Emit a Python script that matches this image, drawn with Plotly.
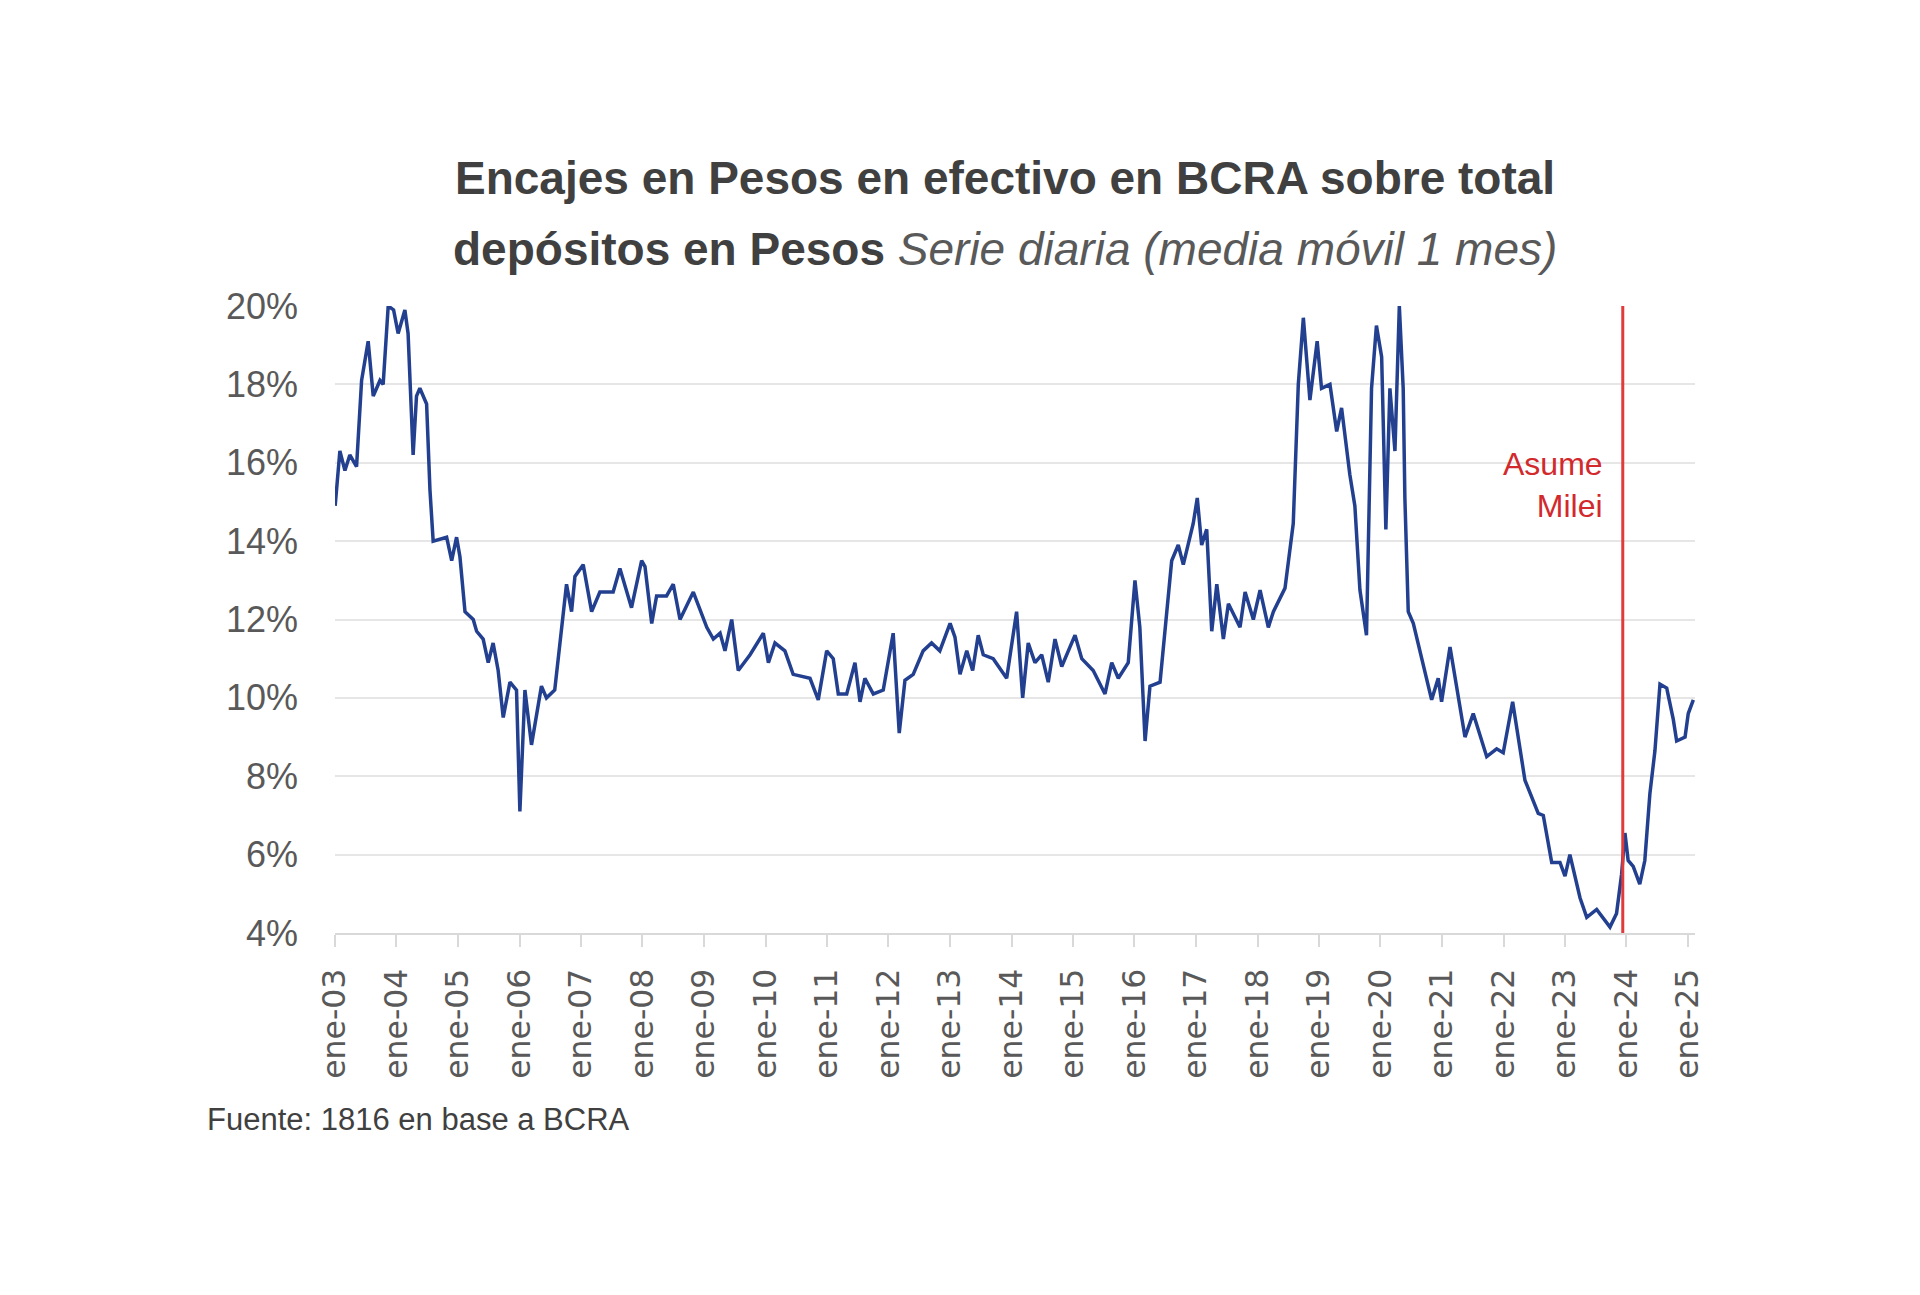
import plotly.graph_objects as go

# ---- data ----
dates = [
    "2003-01-02", "2003-01-30", "2003-03-01", "2003-03-30", "2003-05-09", "2003-06-08",
    "2003-07-17", "2003-08-16", "2003-09-25", "2003-10-14", "2003-11-13", "2003-12-15",
    "2004-01-11", "2004-02-20", "2004-03-10", "2004-04-09", "2004-04-29", "2004-05-19",
    "2004-06-28", "2004-07-18", "2004-08-06", "2004-10-25", "2004-11-24", "2004-12-23",
    "2005-01-12", "2005-02-11", "2005-04-01", "2005-04-21", "2005-05-30", "2005-06-29",
    "2005-07-28", "2005-08-27", "2005-09-26", "2005-11-05", "2005-12-14", "2006-01-03",
    "2006-02-02", "2006-03-13", "2006-05-11", "2006-06-10", "2006-07-29", "2006-09-07",
    "2006-10-07", "2006-11-06", "2006-11-26", "2007-01-14", "2007-03-05", "2007-04-23",
    "2007-07-11", "2007-08-20", "2007-10-28", "2007-12-27", "2008-01-16", "2008-02-25",
    "2008-03-25", "2008-05-23", "2008-07-02", "2008-08-11", "2008-10-29", "2009-01-17",
    "2009-02-25", "2009-04-06", "2009-05-05", "2009-06-14", "2009-07-23", "2009-10-01",
    "2009-12-19", "2010-01-18", "2010-02-26", "2010-04-26", "2010-06-14", "2010-09-22",
    "2010-11-10", "2010-12-30", "2011-02-07", "2011-03-09", "2011-04-28", "2011-06-16",
    "2011-07-16", "2011-08-14", "2011-10-03", "2011-12-01", "2012-01-29", "2012-03-05",
    "2012-04-08", "2012-05-27", "2012-07-25", "2012-09-13", "2012-11-01", "2013-01-01",
    "2013-01-30", "2013-03-01", "2013-04-10", "2013-05-15", "2013-06-17", "2013-07-17",
    "2013-09-14", "2013-12-03", "2014-01-31", "2014-03-08", "2014-04-10", "2014-05-20",
    "2014-06-29", "2014-08-07", "2014-09-16", "2014-10-26", "2015-01-13", "2015-02-22",
    "2015-05-01", "2015-07-10", "2015-08-19", "2015-09-27", "2015-11-25", "2016-01-04",
    "2016-02-02", "2016-03-04", "2016-04-02", "2016-06-01", "2016-07-10", "2016-08-09",
    "2016-09-17", "2016-10-17", "2016-12-15", "2017-01-08", "2017-02-03", "2017-03-05",
    "2017-04-04", "2017-05-04", "2017-06-12", "2017-07-12", "2017-09-19", "2017-10-19",
    "2017-12-07", "2018-01-16", "2018-03-06", "2018-04-05", "2018-06-13", "2018-07-13",
    "2018-08-01", "2018-08-31", "2018-09-30", "2018-11-08", "2018-12-21", "2019-01-16",
    "2019-03-07", "2019-04-16", "2019-05-15", "2019-07-03", "2019-08-02", "2019-09-01",
    "2019-10-10", "2019-11-09", "2019-12-08", "2020-01-08", "2020-02-02", "2020-02-26",
    "2020-03-27", "2020-04-22", "2020-05-15", "2020-05-25", "2020-06-14", "2020-07-14",
    "2020-09-11", "2020-10-31", "2020-12-09", "2020-12-29", "2021-02-17", "2021-04-08",
    "2021-05-17", "2021-07-05", "2021-09-23", "2021-11-21", "2021-12-30", "2022-02-24",
    "2022-04-08", "2022-05-08", "2022-07-26", "2022-08-25", "2022-10-14", "2022-12-02",
    "2023-01-01", "2023-01-30", "2023-03-31", "2023-05-10", "2023-07-08", "2023-09-25",
    "2023-11-03", "2023-12-03", "2023-12-23", "2024-01-11", "2024-02-10", "2024-03-20",
    "2024-04-19", "2024-05-19", "2024-06-18", "2024-07-18", "2024-08-27", "2024-10-05",
    "2024-10-25", "2024-12-14", "2025-01-02", "2025-02-01",
]
encajes_pct = [
    14.9, 16.3, 15.8, 16.2, 15.9, 18.1,
    19.1, 17.7, 18.1, 18.0, 20.0, 19.9,
    19.3, 19.9, 19.3, 16.2, 17.7, 17.9,
    17.5, 15.3, 14.0, 14.1, 13.5, 14.1,
    13.6, 12.2, 12.0, 11.7, 11.5, 10.9,
    11.4, 10.7, 9.5, 10.4, 10.2, 7.1,
    10.2, 8.8, 10.3, 10.0, 10.2, 11.8,
    12.9, 12.2, 13.1, 13.4, 12.2, 12.7,
    12.7, 13.3, 12.3, 13.5, 13.35, 11.9,
    12.6, 12.6, 12.9, 12.0, 12.7, 11.8,
    11.5, 11.65, 11.2, 12.0, 10.7, 11.1,
    11.65, 10.9, 11.4, 11.2, 10.6, 10.5,
    9.95, 11.2, 11.0, 10.1, 10.1, 10.9,
    9.9, 10.5, 10.1, 10.2, 11.65, 9.1,
    10.45, 10.6, 11.2, 11.4, 11.2, 11.9,
    11.55, 10.6, 11.2, 10.7, 11.6, 11.1,
    11.0, 10.5, 12.2, 10.0, 11.4, 10.9,
    11.1, 10.4, 11.5, 10.8, 11.6, 11.0,
    10.7, 10.1, 10.9, 10.5, 10.9, 13.0,
    11.8, 8.9, 10.3, 10.4, 12.2, 13.5,
    13.9, 13.4, 14.45, 15.1, 13.9, 14.3,
    11.7, 12.9, 11.5, 12.4, 11.8, 12.7,
    12.0, 12.75, 11.8, 12.2, 12.8, 13.9,
    14.45, 18.0, 19.7, 17.6, 19.1, 17.9,
    18.0, 16.8, 17.4, 15.7, 14.9, 12.75,
    11.6, 17.9, 19.5, 18.7, 14.3, 17.9,
    16.3, 20.0, 17.9, 15.1, 12.2, 11.9,
    10.8, 9.95, 10.5, 9.9, 11.3, 10.0,
    9.0, 9.6, 8.5, 8.7, 8.6, 9.9,
    8.8, 7.9, 7.05, 7.0, 5.8, 5.8,
    5.45, 6.0, 4.9, 4.4, 4.6, 4.15,
    4.5, 5.5, 6.55, 5.85, 5.7, 5.25,
    5.85, 7.55, 8.65, 10.35, 10.25, 9.45,
    8.9, 9.0, 9.6, 9.95,
]

tick_dates = [f"{y}-01-01" for y in range(2003, 2026)]
tick_labels = [f"ene-{y % 100:02d}" for y in range(2003, 2026)]
y_ticks = [4, 6, 8, 10, 12, 14, 16, 18, 20]
y_tick_labels = [f"{v}%" for v in y_ticks]

milei_date = "2023-12-10"
milei_label = "Asume<br>Milei"

title_line1 = "<b>Encajes en Pesos en efectivo en BCRA sobre total</b>"
title_line2 = ("<b>depósitos en Pesos</b> "
               "<i><span style='font-weight:normal;color:#595959'>Serie diaria (media móvil 1 mes)</span></i>")
source_text = "Fuente: 1816 en base a BCRA"

# ---- figure ----
fig = go.Figure()
fig.add_trace(go.Scatter(
    x=dates, y=encajes_pct, mode="lines",
    line=dict(color="#22408f", width=3.5),
    showlegend=False, hoverinfo="skip",
))

fig.add_shape(type="line", xref="x", yref="paper",
              x0=milei_date, x1=milei_date, y0=0, y1=1,
              line=dict(color="#e03a3a", width=3), layer="above")

fig.add_annotation(text=title_line1, xref="paper", yref="paper",
                   x=0.493, y=1.204, xanchor="center", yanchor="middle",
                   showarrow=False,
                   font=dict(family="Liberation Sans, Arial, sans-serif", size=46, color="#404040"))
fig.add_annotation(text=title_line2, xref="paper", yref="paper",
                   x=0.493, y=1.091, xanchor="center", yanchor="middle",
                   showarrow=False,
                   font=dict(family="Liberation Sans, Arial, sans-serif", size=46, color="#404040"))
fig.add_annotation(text=milei_label, xref="x", yref="paper",
                   x=milei_date, y=0.715, xanchor="right", yanchor="middle",
                   xshift=-18, align="right", showarrow=False,
                   font=dict(family="Liberation Sans, Arial, sans-serif", size=32, color="#d2292d"))
fig.add_annotation(text=source_text, xref="paper", yref="paper",
                   x=-0.0956, y=-0.298, xanchor="left", yanchor="middle",
                   showarrow=False,
                   font=dict(family="Liberation Sans, Arial, sans-serif", size=31, color="#404040"))

fig.update_xaxes(
    type="date", range=["2003-01-01", "2025-02-11"],
    tickvals=tick_dates, ticktext=tick_labels, tickangle=-90,
    ticks="outside", ticklen=12, tickwidth=2, tickcolor="#d9d9d9",
    showline=True, linecolor="#d9d9d9", linewidth=2,
    showgrid=False, zeroline=False,
    ticklabelstandoff=9,
    tickfont=dict(family="DejaVu Sans, sans-serif", size=31.5, color="#595959"),
)
fig.update_yaxes(
    range=[4, 20], tickvals=y_ticks, ticktext=y_tick_labels,
    showgrid=True, gridcolor="#e6e6e6", gridwidth=2,
    zeroline=False, showline=False, ticks="",
    ticklabelstandoff=36,
    tickfont=dict(family="Liberation Sans, Arial, sans-serif", size=36, color="#595959"),
)

# the page body has an 8px default margin, so margins are offset by 8px
fig.update_layout(
    width=1920, height=1295,
    margin=dict(l=327, r=233, t=298, b=370, autoexpand=False),
    plot_bgcolor="white", paper_bgcolor="white",
)

fig.write_html("out.html")
